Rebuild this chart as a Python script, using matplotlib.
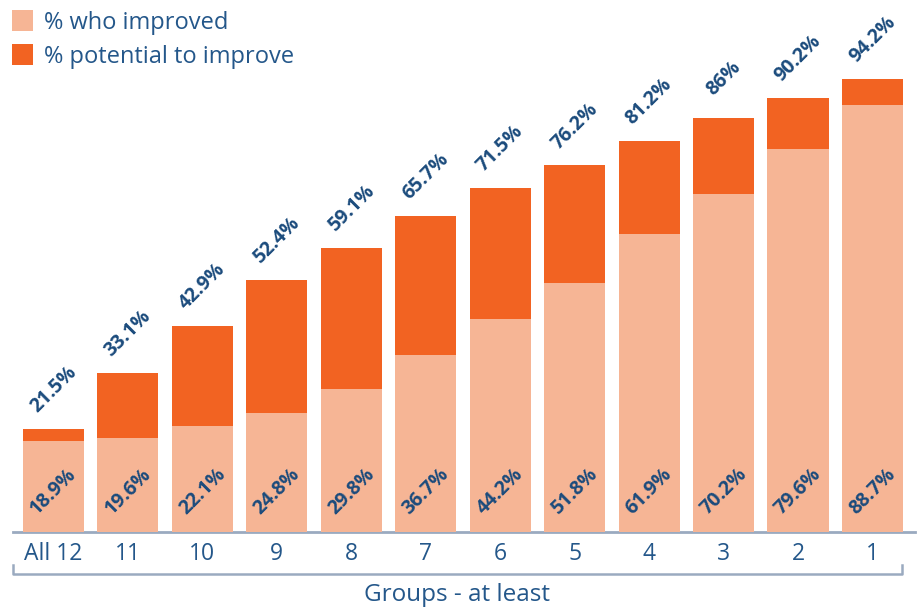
import matplotlib
matplotlib.use("Agg")
import matplotlib.pyplot as plt
from matplotlib.lines import Line2D
from matplotlib.patches import Rectangle
import numpy as np

# Data
groups = ["All 12", "11", "10", "9", "8", "7", "6", "5", "4", "3", "2", "1"]
improved = [18.9, 19.6, 22.1, 24.8, 29.8, 36.7, 44.2, 51.8, 61.9, 70.2, 79.6, 88.7]
total = [21.5, 33.1, 42.9, 52.4, 59.1, 65.7, 71.5, 76.2, 81.2, 86.0, 90.2, 94.2]
total_labels = ["21.5%", "33.1%", "42.9%", "52.4%", "59.1%", "65.7%", "71.5%",
                "76.2%", "81.2%", "86%", "90.2%", "94.2%"]
series_names = ["% who improved", "% potential to improve"]
potential = [t - i for t, i in zip(total, improved)]

LIGHT = "#F6B595"
ORANGE = "#F26322"
NAVY = "#1B4B7C"
TEXT = "#24578A"
AXIS = "#9AAAC0"

plt.rcParams["font.family"] = ["Open Sans", "DejaVu Sans"]

W, H = 919, 607
fig = plt.figure(figsize=(W / 100, H / 100), dpi=100)


def fx(px):
    return px / W


def fy(py):
    return 1 - py / H


base_px = 532
ax = fig.add_axes([fx(13), fy(base_px), (915 - 13) / W, base_px / H])

x = np.arange(len(groups))
width = 0.82
ax.bar(x, improved, width=width, color=LIGHT, zorder=2)
ax.bar(x, potential, width=width, bottom=improved, color=ORANGE, zorder=2)

unit_px = 4.81
ax.set_ylim(0, base_px / unit_px)
step = 74.45
ax.set_xlim((13 - 53.5) / step, (915 - 53.5) / step)

for xi, imp, tot, tl in zip(x, improved, total, total_labels):
    ax.text(xi, 8.5, f"{imp}%", rotation=45, ha="center", va="center",
            fontsize=14, fontweight="bold", color=NAVY, zorder=3)
    ax.text(xi, tot + 8.2, tl, rotation=45, ha="center", va="center",
            fontsize=14, fontweight="bold", color=NAVY, zorder=3)

for s in ["top", "right", "left"]:
    ax.spines[s].set_visible(False)
ax.spines["bottom"].set_color(AXIS)
ax.spines["bottom"].set_linewidth(2)
ax.spines["bottom"].set_zorder(1)
ax.set_yticks([])
ax.set_xticks(x)
ax.set_xticklabels(groups, fontsize=16.5, color=TEXT)
ax.tick_params(axis="x", length=0, pad=7)

# bracket under the category labels
fig.add_artist(Line2D([fx(13), fx(13), fx(902), fx(902)],
                      [fy(565), fy(574), fy(574), fy(565)],
                      color=AXIS, lw=1.8))
fig.text(fx(457), fy(595), "Groups - at least", ha="center", va="center",
         fontsize=17.5, color=TEXT)

# legend swatches
for i, (name, col) in enumerate(zip(series_names, [LIGHT, ORANGE])):
    top = 10 + i * 34
    fig.add_artist(Rectangle((fx(12), fy(top + 21)), 21 / W, 21 / H,
                             facecolor=col, edgecolor="none",
                             transform=fig.transFigure))
    fig.text(fx(44), fy(top + 13), name, ha="left", va="center",
             fontsize=17, color=TEXT)

fig.savefig("out.png", dpi=100)
